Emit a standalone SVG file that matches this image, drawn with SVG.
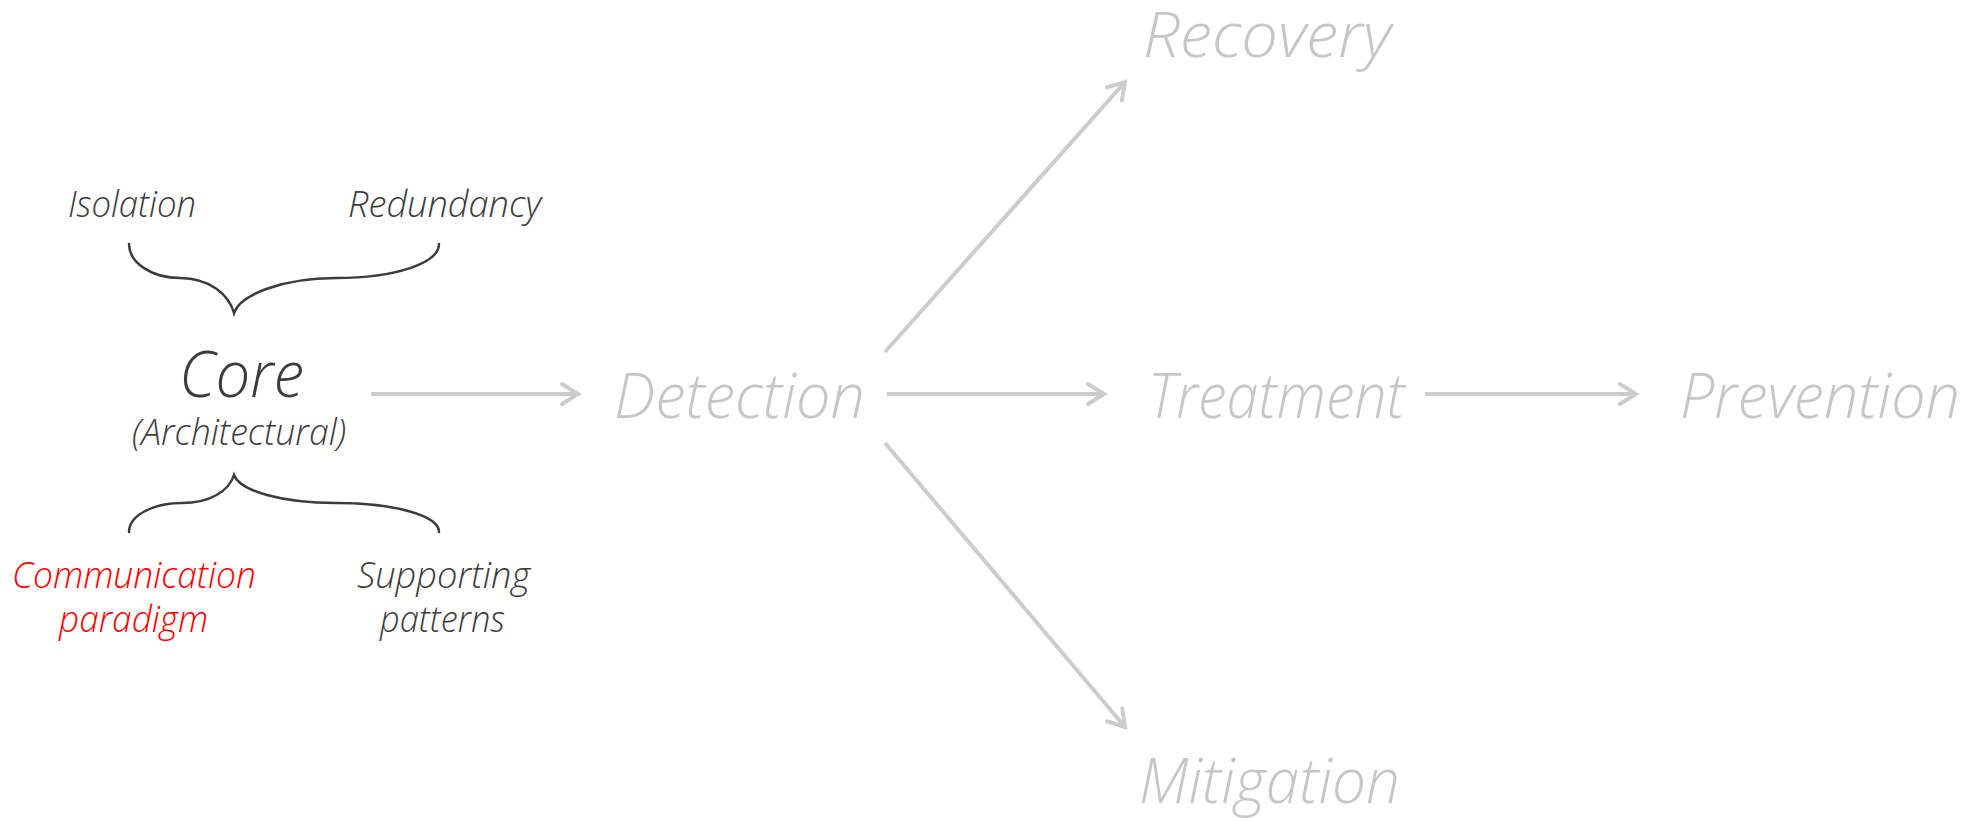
<svg xmlns="http://www.w3.org/2000/svg" width="1987" height="822" viewBox="0 0 1987 822">
  <defs>
    <style>
      text { font-family: "Open Sans", "Noto Sans", "Liberation Sans", sans-serif; font-style: italic; font-weight: 300; }
      .dark { fill: #3c3c3c; }
      .red { fill: #ff0000; }
      .grey { fill: #c6c6c6; }
      .small { font-size: 36px; }
      .big { font-size: 62px; }
      .brace { fill: none; stroke: #3c3c3c; stroke-width: 2.5; stroke-linecap: round; }
      .flow { fill: none; stroke: #cccccc; stroke-width: 4; marker-end: url(#chev); }
    </style>
    <marker id="chev" viewBox="0 0 24 24" markerWidth="24" markerHeight="24" refX="20" refY="12" orient="auto" markerUnits="userSpaceOnUse">
      <path d="M4,2 L20,12 L4,22" fill="none" stroke="#cccccc" stroke-width="4" stroke-linecap="round" stroke-linejoin="miter"/>
    </marker>
  </defs>
  <rect width="1987" height="822" fill="#ffffff"/>

  <!-- Core cluster -->
  <g id="isolation"><text class="dark small" x="68" y="217" textLength="128" lengthAdjust="spacingAndGlyphs">Isolation</text></g>
  <g id="redundancy"><text class="dark small" x="348" y="217" textLength="193" lengthAdjust="spacingAndGlyphs">Redundancy</text></g>
  <g id="upper-brace"><path class="brace" d="M129,244 C129,263 152,278 180,278 C210,278 229,295 234,313 C240,295 282,278 336,278 C396,278 439,263 439,244"/></g>
  <g id="core">
    <text class="dark" x="179" y="397" font-size="64" textLength="125" lengthAdjust="spacingAndGlyphs">Core</text>
    <text class="dark small" x="132" y="445" textLength="214" lengthAdjust="spacingAndGlyphs">(Architectural)</text>
  </g>
  <g id="lower-brace"><path class="brace" d="M129,532 C129,516 152,503 182,503 C210,503 229,491 234,475 C240,491 282,503 336,503 C396,503 439,516 439,532"/></g>
  <g id="communication-paradigm">
    <text class="red small" x="12" y="588" textLength="244" lengthAdjust="spacingAndGlyphs">Communication</text>
    <text class="red small" x="59" y="632" textLength="149" lengthAdjust="spacingAndGlyphs">paradigm</text>
  </g>
  <g id="supporting-patterns">
    <text class="dark small" x="357" y="588" textLength="173" lengthAdjust="spacingAndGlyphs">Supporting</text>
    <text class="dark small" x="380" y="632" textLength="125" lengthAdjust="spacingAndGlyphs">patterns</text>
  </g>

  <!-- Stages -->
  <g id="detection"><text class="grey big" x="614" y="418" textLength="251" lengthAdjust="spacingAndGlyphs">Detection</text></g>
  <g id="recovery"><text class="grey big" x="1143" y="57" textLength="248" lengthAdjust="spacingAndGlyphs">Recovery</text></g>
  <g id="treatment"><text class="grey big" x="1148" y="418" textLength="257" lengthAdjust="spacingAndGlyphs">Treatment</text></g>
  <g id="prevention"><text class="grey big" x="1680" y="418" textLength="280" lengthAdjust="spacingAndGlyphs">Prevention</text></g>
  <g id="mitigation"><text class="grey big" x="1139" y="803" textLength="261" lengthAdjust="spacingAndGlyphs">Mitigation</text></g>

  <!-- Connectors -->
  <g id="connectors">
    <line class="flow" x1="371" y1="394" x2="578" y2="394"/>
    <line class="flow" x1="887" y1="394" x2="1104" y2="394"/>
    <line class="flow" x1="1425" y1="394" x2="1636" y2="394"/>
    <line class="flow" x1="885" y1="352" x2="1125" y2="82"/>
    <line class="flow" x1="885" y1="443" x2="1125" y2="727"/>
  </g>
</svg>
